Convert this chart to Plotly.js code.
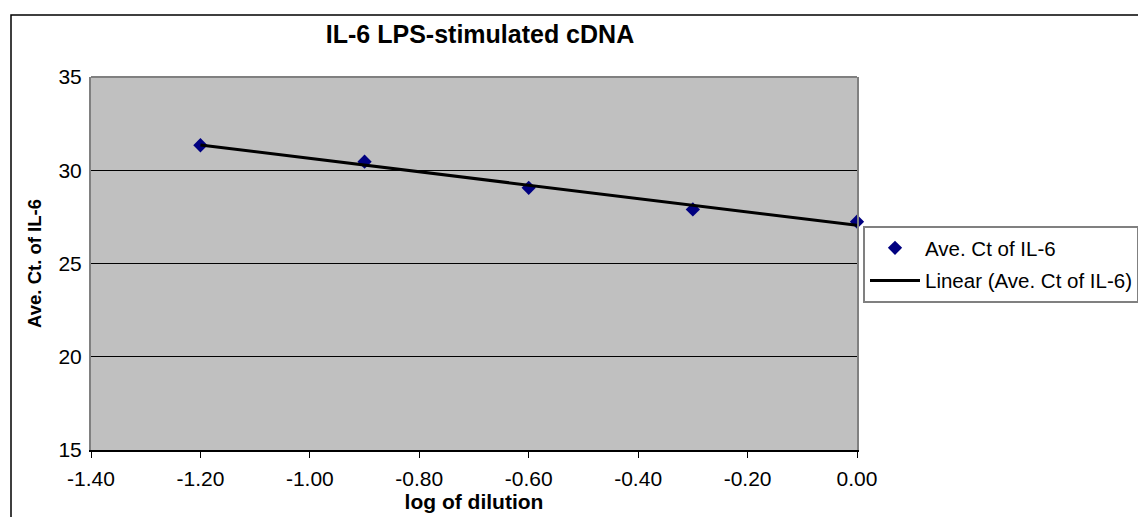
<!DOCTYPE html>
<html>
<head>
<meta charset="utf-8">
<script src="https://cdn.plot.ly/plotly-3.0.1.min.js"></script>
<style>
html,body{margin:0;padding:0;background:#fff;}
#chart{width:1138px;height:517px;}
</style>
</head>
<body>
<div id="chart"></div>
<script>
// Data
const logDilution = [-1.2, -0.9, -0.6, -0.3, 0.0];
const aveCt = [31.34, 30.46, 29.06, 27.90, 27.24];
const seriesName = "Ave. Ct of IL-6";
const trendName = "Linear (Ave. Ct of IL-6)";
const chartTitle = "IL-6 LPS-stimulated cDNA";
const xTitle = "log of dilution";
const yTitle = "Ave. Ct. of IL-6";
const xTickVals = [-1.4, -1.2, -1.0, -0.8, -0.6, -0.4, -0.2, 0.0];
const xTickText = ["-1.40", "-1.20", "-1.00", "-0.80", "-0.60", "-0.40", "-0.20", "0.00"];
const yTickVals = [15, 20, 25, 30, 35];
const yTickText = ["15", "20", "25", "30", "35"];

// Least-squares linear trendline computed from the data
function linfit(xs, ys) {
  const n = xs.length;
  const mx = xs.reduce((a, b) => a + b, 0) / n;
  const my = ys.reduce((a, b) => a + b, 0) / n;
  let sxy = 0, sxx = 0;
  for (let i = 0; i < n; i++) { sxy += (xs[i] - mx) * (ys[i] - my); sxx += (xs[i] - mx) ** 2; }
  const m = sxy / sxx;
  return { m: m, b: my - m * mx };
}
const fit = linfit(logDilution, aveCt);
const trendX = [Math.min(...logDilution), Math.max(...logDilution)];
const trendY = trendX.map(x => fit.m * x + fit.b);

const FONT = "Liberation Sans, Arial, sans-serif";

const traces = [
  {
    x: logDilution, y: aveCt, type: "scatter", mode: "markers", name: seriesName,
    legendgroup: "a",
    marker: { symbol: "diamond", size: 11, color: "#000080" },
    cliponaxis: false
  },
  {
    x: trendX, y: trendY, type: "scatter", mode: "lines", name: trendName,
    legendgroup: "b",
    line: { color: "#000000", width: 3 }
  }
];

const L = 91, R = 857, T = 77, B = 450;
const W = 1138, H = 517;
const pw = R - L, ph = B - T;

const layout = {
  width: W, height: H,
  margin: { l: L, r: W - R, t: T, b: H - B, pad: 0, autoexpand: false },
  paper_bgcolor: "#ffffff",
  plot_bgcolor: "#C0C0C0",
  font: { family: FONT, color: "#000", size: 20 },
  title: {
    text: "<b>" + chartTitle + "</b>",
    font: { family: FONT, size: 25, color: "#000" },
    xref: "paper", x: (480 - L) / pw, xanchor: "center",
    yref: "container", y: 1 - 34 / H, yanchor: "middle"
  },
  xaxis: {
    range: [-1.4, 0], tickmode: "array", tickvals: xTickVals, ticktext: xTickText,
    showgrid: false, zeroline: false, automargin: false,
    showline: true, linecolor: "#000", linewidth: 1.5,
    ticks: "outside", ticklen: 6, tickcolor: "#000", tickwidth: 1,
    ticklabelstandoff: 3,
    tickfont: { family: FONT, size: 21, color: "#000" },
    title: { text: "<b>" + xTitle + "</b>", font: { family: FONT, size: 21, color: "#000" }, standoff: 5 }
  },
  yaxis: {
    range: [15, 35], tickmode: "array", tickvals: yTickVals, ticktext: yTickText,
    automargin: false,
    showgrid: true, gridcolor: "#000", gridwidth: 1, zeroline: false,
    showline: true, linecolor: "#808080", linewidth: 2, mirror: true,
    ticks: "", ticklabelstandoff: 3,
    tickfont: { family: FONT, size: 21, color: "#000" },
    title: { text: "<b>" + yTitle + "</b>", font: { family: FONT, size: 18.5, color: "#000" }, standoff: 12 }
  },
  legend: {
    x: (863 - L) / pw, xanchor: "left",
    y: (B - 226) / ph, yanchor: "top",
    bgcolor: "#ffffff", bordercolor: "#808080", borderwidth: 2,
    font: { family: FONT, size: 20.5, color: "#000" },
    tracegroupgap: 3, itemwidth: 50
  },
  shapes: [
    { type: "line", xref: "paper", yref: "paper", x0: 0, x1: 1, y0: 1, y1: 1,
      line: { color: "#808080", width: 2 } },
    { type: "rect", xref: "paper", yref: "paper",
      x0: (11 - L) / pw, x1: (1145 - L) / pw, y0: (B - 525) / ph, y1: (B - 15) / ph,
      line: { color: "#000", width: 1.5 }, fillcolor: "rgba(0,0,0,0)" }
  ],
  showlegend: true
};

Plotly.newPlot("chart", traces, layout, { displayModeBar: false, staticPlot: true });
</script>
</body>
</html>
